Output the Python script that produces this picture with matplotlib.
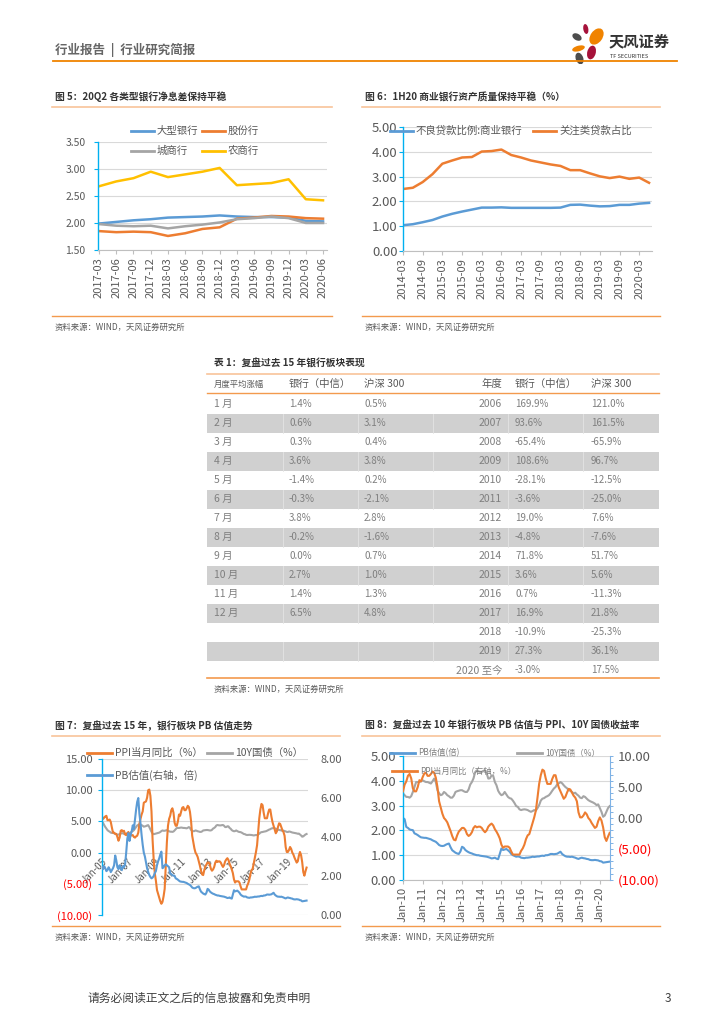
import matplotlib
matplotlib.use('Agg')
import matplotlib.pyplot as plt
import numpy as np
from matplotlib.lines import Line2D
from matplotlib.patches import Ellipse, Rectangle

plt.rcParams['font.family'] = ['Noto Sans CJK SC', 'DejaVu Sans']
plt.rcParams['axes.unicode_minus'] = False

W, H = 724, 1024
BLUE = '#5B9BD5'
ORANGE = '#ED7D31'
GRAY = '#A5A5A5'
YELLOW = '#FFC000'
CYAN = '#00B0F0'
GRID = '#D9D9D9'
TXT = '#595959'
TITLE_LINE = '#F8C39A'
SRC_LINE = '#F39A4E'
RED = '#FF0000'

# ---------------- data ----------------
# 图5 净息差 (%)
quarters5 = ['2017-03', '2017-06', '2017-09', '2017-12', '2018-03', '2018-06', '2018-09',
             '2018-12', '2019-03', '2019-06', '2019-09', '2019-12', '2020-03', '2020-06']
big_banks = [1.99, 2.02, 2.05, 2.07, 2.10, 2.11, 2.12, 2.14, 2.12, 2.11, 2.11, 2.10, 2.04, 2.03]
joint_banks = [1.85, 1.83, 1.84, 1.83, 1.76, 1.81, 1.89, 1.92, 2.08, 2.10, 2.13, 2.12, 2.09, 2.08]
city_banks = [1.98, 1.95, 1.94, 1.95, 1.90, 1.94, 1.97, 2.01, 2.07, 2.09, 2.12, 2.09, 2.00, 2.00]
rural_banks = [2.68, 2.77, 2.83, 2.95, 2.85, 2.90, 2.95, 3.02, 2.70, 2.72, 2.74, 2.81, 2.44, 2.42]

# 图6 资产质量 (%), 2014-03 ~ 2020-06 季度
quarters6 = [f'{y}-{m}' for y in range(2014, 2021) for m in ('03', '06', '09', '12')][:26]
npl_ratio = [1.04, 1.08, 1.16, 1.25, 1.39, 1.50, 1.59, 1.67, 1.75, 1.75, 1.76, 1.74, 1.74,
             1.74, 1.74, 1.74, 1.75, 1.86, 1.87, 1.83, 1.80, 1.81, 1.86, 1.86, 1.91, 1.94]
special_mention = [2.50, 2.55, 2.78, 3.10, 3.52, 3.65, 3.77, 3.79, 4.01, 4.03, 4.09, 3.87, 3.77,
                   3.65, 3.57, 3.49, 3.43, 3.26, 3.26, 3.13, 3.01, 2.94, 3.00, 2.91, 2.96, 2.75]

# 表1
months = [f'{i} 月' for i in range(1, 13)]
bank_month = [1.4, 0.6, 0.3, 3.6, -1.4, -0.3, 3.8, -0.2, 0.0, 2.7, 1.4, 6.5]
hs300_month = [0.5, 3.1, 0.4, 3.8, 0.2, -2.1, 2.8, -1.6, 0.7, 1.0, 1.3, 4.8]
years = [str(y) for y in range(2006, 2020)] + ['2020 至今']
bank_year = [169.9, 93.6, -65.4, 108.6, -28.1, -3.6, 19.0, -4.8, 71.8, 3.6, 0.7, 16.9, -10.9, 27.3, -3.0]
hs300_year = [121.0, 161.5, -65.9, 96.7, -12.5, -25.0, 7.6, -7.6, 51.7, 5.6, -11.3, 21.8, -25.3, 36.1, 17.5]

# 月度序列 2005-01 ~ 2020-07
ppi = [5.8, 5.4, 5.6, 5.8, 5.9, 5.2, 5.2, 5.3, 4.9, 4.0, 3.2, 3.2,
       3.0, 3.0, 2.5, 1.9, 2.4, 3.5, 3.6, 3.4, 3.5, 2.9, 2.8, 3.1,
       3.3, 2.6, 2.7, 2.8, 2.8, 2.5, 2.4, 2.6, 2.7, 3.2, 4.6, 5.4,
       6.1, 6.6, 8.0, 8.1, 8.2, 8.8, 10.0, 10.1, 9.1, 6.6, 2.0, -1.1,
       -3.3, -4.5, -6.0, -6.6, -7.2, -7.8, -8.2, -7.9, -7.0, -5.8, -2.1, 1.7,
       4.3, 5.4, 5.9, 6.8, 7.1, 6.4, 4.8, 4.3, 4.3, 5.0, 6.1, 5.9,
       6.6, 7.2, 7.3, 6.8, 6.8, 7.1, 7.5, 7.3, 6.5, 5.0, 2.7, 1.7,
       0.7, 0.0, -0.3, -0.7, -1.4, -2.1, -2.9, -3.5, -3.6, -2.8, -2.2, -1.9,
       -1.6, -1.6, -1.9, -2.6, -2.9, -2.7, -2.3, -1.6, -1.3, -1.5, -1.4, -1.4,
       -1.6, -2.0, -2.3, -2.0, -1.4, -1.1, -0.9, -1.2, -1.8, -2.2, -2.7, -3.3,
       -4.3, -4.8, -4.6, -4.6, -4.6, -4.8, -5.4, -5.9, -5.9, -5.9, -5.9, -5.9,
       -5.3, -4.9, -4.3, -3.4, -2.8, -2.6, -1.7, -0.8, 0.1, 1.2, 3.3, 5.5,
       6.9, 7.8, 7.6, 6.4, 5.5, 5.5, 5.5, 6.3, 6.9, 6.9, 5.8, 4.9,
       4.3, 3.7, 3.1, 3.4, 4.1, 4.7, 4.6, 4.1, 3.6, 3.3, 2.7, 0.9,
       0.1, 0.1, 0.4, 0.9, 0.6, 0.0, -0.3, -0.8, -1.2, -1.6, -1.4, -0.5,
       0.1, -0.4, -1.5, -3.1, -3.7, -3.0, -2.4]
cgb10y = [4.90, 4.75, 4.40, 4.10, 3.85, 3.60, 3.45, 3.35, 3.20, 3.15, 3.15, 3.10,
          3.00, 2.95, 2.85, 2.90, 2.95, 3.05, 3.10, 3.10, 3.00, 3.00, 3.05, 3.05,
          3.05, 3.10, 3.20, 3.35, 3.45, 3.60, 3.85, 4.10, 4.35, 4.45, 4.50, 4.45,
          4.40, 4.30, 4.15, 4.20, 4.25, 4.35, 4.40, 4.10, 3.70, 3.35, 3.05, 2.95,
          3.00, 3.05, 3.10, 3.15, 3.20, 3.30, 3.45, 3.55, 3.50, 3.50, 3.55, 3.60,
          3.49, 3.42, 3.35, 3.35, 3.32, 3.38, 3.55, 3.75, 3.95, 3.95, 3.95, 3.98,
          4.02, 3.98, 3.95, 3.95, 3.92, 3.89, 3.98, 4.09, 3.95, 3.62, 3.50, 3.42,
          3.45, 3.55, 3.50, 3.42, 3.38, 3.32, 3.32, 3.40, 3.55, 3.58, 3.60, 3.62,
          3.62, 3.58, 3.55, 3.55, 3.65, 3.85, 3.95, 4.10, 4.35, 4.42, 4.38, 4.36,
          4.36, 4.40, 4.42, 4.30, 4.09, 4.10, 4.22, 4.20, 3.95, 3.82, 3.60, 3.49,
          3.42, 3.45, 3.55, 3.45, 3.35, 3.30, 3.28, 3.20, 3.10, 2.98, 2.95, 2.85,
          2.82, 2.84, 2.85, 2.84, 2.82, 2.78, 2.75, 2.78, 2.82, 2.80, 2.90, 3.02,
          3.20, 3.28, 3.30, 3.35, 3.38, 3.42, 3.50, 3.60, 3.69, 3.75, 3.86, 3.90,
          3.95, 3.90, 3.82, 3.75, 3.70, 3.62, 3.60, 3.55, 3.49, 3.52, 3.45, 3.40,
          3.32, 3.30, 3.38, 3.35, 3.28, 3.22, 3.18, 3.15, 3.12, 3.08, 3.02, 3.05,
          2.90, 2.75, 2.55, 2.60, 2.75, 2.90, 2.98]
bank_pb = [2.45, 2.35, 2.50, 2.40, 2.25, 2.30, 2.45, 2.35, 2.20, 2.30, 2.40, 2.55,
           3.05, 2.80, 2.45, 2.35, 2.55, 2.40, 2.30, 2.50, 2.45, 2.60, 3.20, 3.90,
           4.20, 3.80, 4.10, 4.30, 4.60, 4.40, 4.90, 5.40, 5.80, 6.00, 5.20, 4.70,
           4.10, 3.60, 3.20, 3.00, 2.70, 2.40, 2.20, 2.05, 1.95, 1.88, 1.92, 2.00,
           2.15, 2.25, 2.55, 2.75, 2.90, 3.10, 3.25, 2.40, 2.45, 2.55, 2.60, 2.55,
           2.50, 2.45, 2.14, 2.10, 2.04, 2.02, 2.01, 1.88, 1.85, 1.81, 1.76, 1.72,
           1.71, 1.70, 1.70, 1.68, 1.66, 1.64, 1.60, 1.57, 1.54, 1.48, 1.41, 1.38,
           1.37, 1.38, 1.42, 1.45, 1.47, 1.32, 1.20, 1.15, 1.10, 1.07, 1.05, 1.15,
           1.34, 1.30, 1.21, 1.16, 1.12, 1.09, 1.07, 1.04, 1.02, 1.00, 1.00, 0.98,
           0.97, 0.96, 0.95, 0.94, 0.92, 0.90, 0.87, 0.88, 0.90, 0.86, 0.84, 1.05,
           1.27, 1.21, 1.23, 1.25, 1.20, 1.14, 1.05, 1.00, 0.97, 0.94, 0.95, 0.94,
           0.90, 0.89, 0.88, 0.90, 0.90, 0.91, 0.92, 0.94, 0.93, 0.94, 0.95, 0.95,
           0.97, 0.98, 0.97, 1.00, 1.00, 1.02, 1.05, 1.05, 1.04, 1.05, 1.06, 1.10,
           1.14, 1.05, 1.00, 0.96, 0.94, 0.94, 0.93, 0.94, 0.92, 0.90, 0.87, 0.85,
           0.88, 0.90, 0.88, 0.87, 0.85, 0.84, 0.81, 0.80, 0.80, 0.81, 0.80, 0.79,
           0.76, 0.75, 0.70, 0.71, 0.72, 0.73, 0.74]


# ---------------- helpers (pixel coords, origin top-left) ----------------
def px_rect(l, t, r, b):
    return [l / W, 1 - b / H, (r - l) / W, (b - t) / H]


def fline(x1, x2, y, color, lw=1.0):
    fig.add_artist(Line2D([x1 / W, x2 / W], [1 - y / H] * 2, color=color, lw=lw))


def ftext(x, y, s, **kw):
    kw.setdefault('va', 'center')
    fig.text(x / W, 1 - y / H, s, **kw)


def legend_item(x, y, color, label, size=7.5, length=23, lw=2.0, tcolor=TXT):
    fline(x, x + length, y, color, lw)
    ftext(x + length + 3, y, label, fontsize=size, color=tcolor)


def panel_frame(x1, x2, title, ytitle, yline1, yline2, ysrc):
    ftext(x1 + 3, ytitle, title, fontsize=7, fontweight='bold', color='#333333')
    fline(x1, x2, yline1, TITLE_LINE, 1.2)
    fline(x1, x2, yline2, SRC_LINE, 1.0)
    ftext(x1 + 3, ysrc, '资料来源：WIND，天风证券研究所', fontsize=6, color=TXT)


def style_axes(ax, ysize, ypad):
    ax.set_facecolor('none')
    ax.grid(axis='y', color=GRID, lw=0.8)
    ax.set_axisbelow(True)
    for s in ('top', 'right'):
        ax.spines[s].set_visible(False)
    ax.spines['left'].set_color(CYAN)
    ax.spines['left'].set_linewidth(1.0)
    ax.spines['bottom'].set_color('#BFBFBF')
    ax.tick_params(axis='y', colors=CYAN, labelcolor=TXT, length=3, width=0.8,
                   labelsize=ysize, pad=ypad)
    ax.tick_params(axis='x', colors='#BFBFBF', labelcolor=TXT, length=3,
                   labelsize=8, pad=2)


def money(v):
    return f'({abs(v):.2f})' if v < 0 else f'{v:.2f}'


def red_negatives(ax, ticks):
    for lab, v in zip(ax.get_yticklabels(), ticks):
        lab.set_color(RED if v < 0 else TXT)


fig = plt.figure(figsize=(W / 100, H / 100), dpi=100, facecolor='white')

# ---------------- page header / footer ----------------
ftext(55, 50, '行业报告  |  行业研究简报', fontsize=9, color='#666666', fontweight='bold')
fline(53, 677, 61, '#F08300', 1.3)

lax = fig.add_axes(px_rect(566, 20, 606, 64))
lax.set_xlim(566, 606)
lax.set_ylim(64, 20)
lax.axis('off')
petals = [((577.0, 37.0), 10, 6.5, 30, '#4D4D4D'),
          ((585.8, 29.0), 5, 10, -10, '#A6123A'),
          ((596.5, 36.5), 12, 18, 35, '#F08300'),
          ((578.5, 48.5), 13, 5.5, -15, '#F08300'),
          ((591.5, 52.5), 8.5, 14, 15, '#A6123A'),
          ((579.5, 58.5), 7.5, 12, -20, '#4D4D4D')]
for c, w, h, a, col in petals:
    lax.add_patch(Ellipse(c, w, h, angle=a, color=col, lw=0))
ftext(609, 41, '天风证券', fontsize=11, fontweight='bold', color='#333333')
ftext(610, 56, 'TF SECURITIES', fontsize=4, color='#333333')

ftext(88, 998, '请务必阅读正文之后的信息披露和免责申明', fontsize=8.5, color='#404040')
ftext(665, 998, '3', fontsize=8.5, color='#404040')

# ========== 图5 ==========
panel_frame(52, 332, '图 5：20Q2 各类型银行净息差保持平稳', 97, 107, 316, 327)
ax5 = fig.add_axes(px_rect(98, 142, 327, 250))
x5 = np.arange(len(quarters5))
ax5.plot(x5, big_banks, color=BLUE, lw=1.8)
ax5.plot(x5, joint_banks, color=ORANGE, lw=1.8)
ax5.plot(x5, city_banks, color=GRAY, lw=1.8)
ax5.plot(x5, rural_banks, color=YELLOW, lw=1.8)
ax5.set_xlim(-0.06, 13.23)
ax5.set_ylim(1.5, 3.5)
yt5 = [1.5, 2.0, 2.5, 3.0, 3.5]
ax5.set_yticks(yt5)
ax5.set_yticklabels([f'{v:.2f}' for v in yt5])
ax5.set_xticks(x5)
ax5.set_xticklabels(quarters5, rotation=90)
style_axes(ax5, 7.5, 6)
legend_item(131, 131, BLUE, '大型银行')
legend_item(202, 131, ORANGE, '股份行')
legend_item(131, 151, GRAY, '城商行')
legend_item(202, 151, YELLOW, '农商行')

# ========== 图6 ==========
panel_frame(362, 660, '图 6：1H20 商业银行资产质量保持平稳（%）', 97, 107, 316, 327)
ax6 = fig.add_axes(px_rect(403, 127, 652, 251))
x6 = np.arange(len(quarters6))
ax6.plot(x6, npl_ratio, color=BLUE, lw=1.8)
ax6.plot(x6, special_mention, color=ORANGE, lw=1.8)
ax6.set_xlim(0, 25.3)
ax6.set_ylim(0, 5)
yt6 = [0, 1, 2, 3, 4, 5]
ax6.set_yticks(yt6)
ax6.set_yticklabels([f'{v:.2f}' for v in yt6])
ax6.set_xticks(x6[::2])
ax6.set_xticklabels(quarters6[::2], rotation=90)
style_axes(ax6, 9.5, 1)
legend_item(390, 131, BLUE, '不良贷款比例:商业银行')
legend_item(533, 131, ORANGE, '关注类贷款占比')

# ========== 表1 ==========
ftext(214, 364, '表 1：复盘过去 15 年银行板块表现', fontsize=7, fontweight='bold', color='#333333')
fline(207, 659, 374, TITLE_LINE, 1.2)
fline(207, 659, 393, SRC_LINE, 1.0)
ftext(214, 384, '月度平均涨幅', fontsize=6, color=TXT)
ftext(289, 384, '银行（中信）', fontsize=7.5, color=TXT)
ftext(364, 384, '沪深 300', fontsize=7.5, color=TXT)
ftext(502, 384, '年度', fontsize=7.5, color=TXT, ha='right')
ftext(515, 384, '银行（中信）', fontsize=7.5, color=TXT)
ftext(591, 384, '沪深 300', fontsize=7.5, color=TXT)

row_h = 19
for i in range(len(years)):
    yc = 404 + row_h * i
    if i % 2 == 1:
        fig.add_artist(Rectangle((207 / W, 1 - (yc + row_h / 2) / H), 452 / W, row_h / H,
                                 color='#D0D0D0', lw=0))
        for xs in (283, 358, 433, 508, 583):
            fig.add_artist(Line2D([xs / W] * 2, [1 - (yc - 9.5) / H, 1 - (yc + 9.5) / H],
                                  color='#E4E4E4', lw=0.6))
    if i < len(months):
        ftext(214, yc, months[i], fontsize=7.5, color='#7F7F7F')
        ftext(289, yc, f'{bank_month[i]:.1f}%', fontsize=7, color='#7F7F7F')
        ftext(364, yc, f'{hs300_month[i]:.1f}%', fontsize=7, color='#7F7F7F')
    ftext(502, yc, years[i], fontsize=7.5, color='#7F7F7F', ha='right')
    ftext(515, yc, f'{bank_year[i]:.1f}%', fontsize=7, color='#7F7F7F')
    ftext(591, yc, f'{hs300_year[i]:.1f}%', fontsize=7, color='#7F7F7F')
fline(207, 659, 678, SRC_LINE, 1.2)
ftext(214, 689, '资料来源：WIND，天风证券研究所', fontsize=6, color=TXT)

# ========== 图7 ==========
panel_frame(52, 340, '图 7：复盘过去 15 年，银行板块 PB 估值走势', 726, 736, 926, 937)
ax7 = fig.add_axes(px_rect(102, 759, 308, 915))
m7 = np.arange(len(ppi))
ax7.plot(m7, cgb10y, color=GRAY, lw=1.5)
ax7.plot(m7, ppi, color=ORANGE, lw=1.5)
ax7.set_xlim(0, 187.3)
ax7.set_ylim(-10, 15)
yt7 = [-10, -5, 0, 5, 10, 15]
ax7.set_yticks(yt7)
ax7.set_yticklabels([money(v) for v in yt7])
style_axes(ax7, 8, 4)
red_negatives(ax7, yt7)
ax7.spines['bottom'].set_position(('data', 0))
ax7.spines['bottom'].set_color('none')
ax7.set_xticks(np.arange(0, 187, 24))
ax7.set_xticklabels([f'Jan-{y % 100:02d}' for y in range(2005, 2020, 2)],
                    rotation=45, ha='right', va='top', rotation_mode='anchor')
ax7.tick_params(axis='x', length=0, labelsize=7, pad=3)
ax7r = ax7.twinx()
ax7r.plot(m7, bank_pb, color=BLUE, lw=1.5)
ax7r.set_ylim(0, 8)
ax7r.set_yticks([0, 2, 4, 6, 8])
ax7r.set_yticklabels([f'{v:.2f}' for v in [0, 2, 4, 6, 8]])
for s in ax7r.spines.values():
    s.set_visible(False)
ax7r.tick_params(axis='y', length=0, labelsize=8, labelcolor=TXT, pad=9)
legend_item(87, 753, ORANGE, 'PPI当月同比（%）', size=7.5, length=25)
legend_item(207, 753, GRAY, '10Y国债（%）', size=7.5, length=25)
legend_item(87, 775, BLUE, 'PB估值(右轴，倍)', size=7.5, length=25)

# ========== 图8 ==========
panel_frame(362, 660, '图 8：复盘过去 10 年银行板块 PB 估值与 PPI、10Y 国债收益率', 726, 736, 926, 937)
start8 = 60  # 2010-01
ax8 = fig.add_axes(px_rect(403, 756, 610, 880))
m8 = np.arange(len(ppi) - start8)
ax8.plot(m8, cgb10y[start8:], color=GRAY, lw=1.5)
ax8.plot(m8, bank_pb[start8:], color=BLUE, lw=1.5)
ax8.set_xlim(0, 126.2)
ax8.set_ylim(0, 5)
yt8 = [0, 1, 2, 3, 4, 5]
ax8.set_yticks(yt8)
ax8.set_yticklabels([f'{v:.2f}' for v in yt8])
style_axes(ax8, 9.5, 2)
ax8.set_xticks(np.arange(0, 121, 12))
ax8.set_xticklabels([f'Jan-{y % 100:02d}' for y in range(2010, 2021)], rotation=90)
ax8.tick_params(axis='x', labelsize=8)
ax8r = ax8.twinx()
ax8r.plot(m8, ppi[start8:], color=ORANGE, lw=1.5)
ax8r.set_ylim(-10, 10)
yt8r = [-10, -5, 0, 5, 10]
ax8r.set_yticks(yt8r)
ax8r.set_yticklabels([money(v) for v in yt8r])
ax8r.set_yticks(np.arange(-10, 11, 1), minor=True)
for s in ('top', 'left', 'bottom'):
    ax8r.spines[s].set_visible(False)
ax8r.spines['right'].set_color('#7FB2E5')
ax8r.tick_params(axis='y', which='both', colors='#7FB2E5', length=2.5, width=0.7,
                 labelsize=9.5, pad=3)
red_negatives(ax8r, yt8r)
legend_item(390, 753, BLUE, 'PB估值(倍)', size=6, length=25, tcolor='#7F7F7F')
legend_item(517, 753, GRAY, '10Y国债（%）', size=6, length=25, tcolor='#7F7F7F')
legend_item(392, 771, ORANGE, 'PPI当月同比（右轴，%）', size=6, length=25, tcolor='#7F7F7F')

fig.savefig('out.png', dpi=100, facecolor='white')
